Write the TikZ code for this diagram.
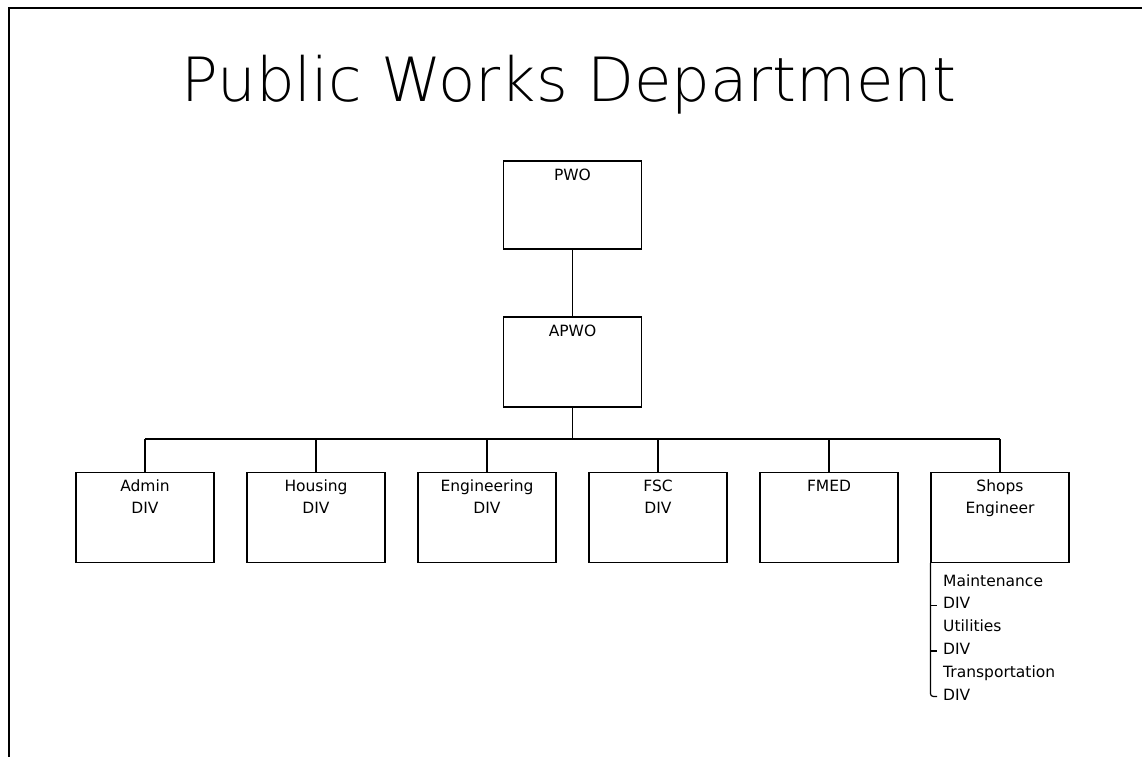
\documentclass[tikz,border=0pt]{standalone}
\usepackage{fontspec}
\setmainfont{DejaVu Sans}
\newfontfamily\titlefont{DejaVu Sans ExtraLight}
\usepackage{tikz}
\usetikzlibrary{positioning}
\tikzset{orgbox/.style={rectangle,draw,minimum width=138pt,minimum height=90pt,inner sep=0pt,line width=1.2pt}}
\tikzset{boxtext/.style={anchor=north,align=center,inner sep=0pt,yshift=-8pt,font=\fontsize{15.5}{22}\selectfont}}
\tikzset{divtext/.style={inner sep=0pt,text height=11pt,text depth=4pt,font=\fontsize{15.5}{22}\selectfont}}
\tikzset{conn/.style={line width=1.2pt}}

\begin{document}
\begin{tikzpicture}[x=1pt,y=-1pt]
        \useasboundingbox (0,0) rectangle (1142,757);
        \draw[line width=2.5pt] (1142,8) -- (9,8) -- (9,757);

        \node[font=\titlefont\fontsize{61}{61}\selectfont,anchor=base,inner sep=0pt] (title) at (569,102) {Public Works Department};

        \node[orgbox,minimum height=88pt,label={[boxtext]north:PWO}] (pwo) at (572.5,205) {};
        \node[orgbox,below=66.8pt of pwo,label={[boxtext]north:APWO}] (apwo) {};

        \node[orgbox,label={[boxtext]north:{Admin\\DIV}}] (admin) at (145,517.5) {};
        \node[orgbox,right=31.8pt of admin,label={[boxtext]north:{Housing\\DIV}}] (housing) {};
        \node[orgbox,right=31.8pt of housing,label={[boxtext]north:{Engineering\\DIV}}] (engdiv) {};
        \node[orgbox,right=31.8pt of engdiv,label={[boxtext]north:{FSC\\DIV}}] (fsc) {};
        \node[orgbox,right=31.8pt of fsc,label={[boxtext]north:FMED}] (fmed) {};
        \node[orgbox,right=31.8pt of fmed,label={[boxtext]north:{Shops\\Engineer}}] (shops) {};

        \coordinate (bus) at (572.5,439);

        \draw[conn] (pwo) to (apwo);
        \draw[conn] (apwo.south) to (bus);
        \draw[conn] (bus -| admin) to (bus -| shops);
        \foreach \dv in {admin,housing,engdiv,fsc,fmed,shops}
            \draw[conn] (bus -| \dv) to (\dv.north);

        % shops sub-divisions
        \node[divtext,anchor=base west] (maint) at (943,586) {Maintenance};
        \node[divtext,below=7.4pt of maint.south west,anchor=north west] (mdiv) {DIV};
        \node[divtext,below=7.4pt of mdiv.south west,anchor=north west] (util) {Utilities};
        \node[divtext,below=7.4pt of util.south west,anchor=north west] (udiv) {DIV};
        \node[divtext,below=7.4pt of udiv.south west,anchor=north west] (trans) {Transportation};
        \node[divtext,below=7.4pt of trans.south west,anchor=north west] (tdiv) {DIV};

        \draw[conn] (shops.south west |- mdiv.west) to ([xshift=-6pt]mdiv.west);
        \draw[conn] (shops.south west |- udiv.west) to ([xshift=-6pt]udiv.west);
        \draw[conn,rounded corners=3pt] (shops.south west) |- ([xshift=-6pt]tdiv.west);
    \end{tikzpicture}
\end{document}
